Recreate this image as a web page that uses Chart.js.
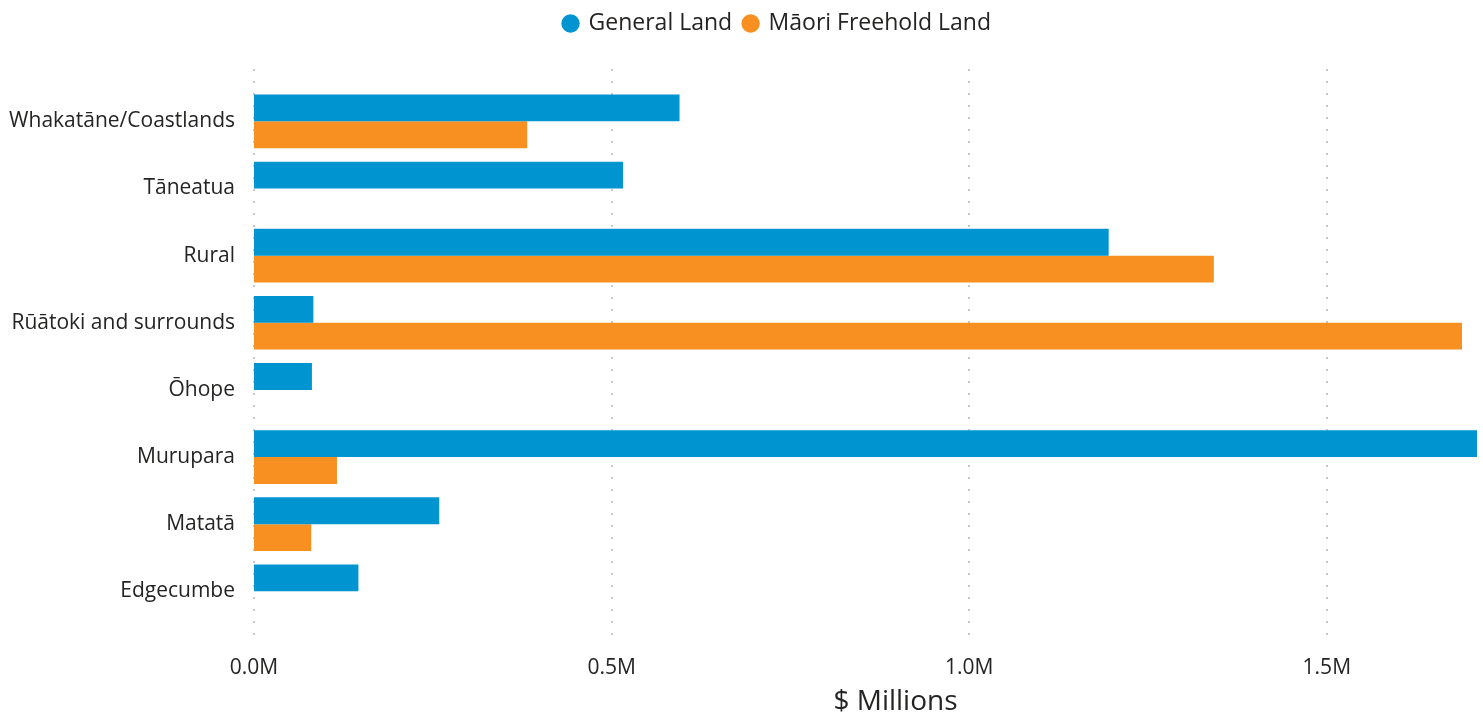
<!DOCTYPE html>
<html>
<head>
<meta charset="utf-8">
<script src="https://cdn.jsdelivr.net/npm/chart.js@4"></script>
<style>
  html, body { margin: 0; padding: 0; background: #fff; }
  #wrap { width: 1483px; height: 716px; position: relative; }
</style>
</head>
<body>
<div id="wrap"><canvas id="landChart"></canvas></div>
<script>
const regions = ['Whakatāne/Coastlands', 'Tāneatua', 'Rural', 'Rūātoki and surrounds', 'Ōhope', 'Murupara', 'Matatā', 'Edgecumbe'];
const generalLand = [0.595, 0.516, 1.195, 0.083, 0.081, 1.71, 0.259, 0.146];
const maoriLand = [0.382, 0, 1.342, 1.689, 0, 0.116, 0.080, 0];
const xTicks = [0, 0.5, 1.0, 1.5];

const FONT = '"Open Sans", "Noto Sans", sans-serif';
const TEXT = '#252423';

// bars sit on a numeric index axis so the grid can run past the first/last row
const toPoints = arr => arr.map((v, i) => ({ x: v, y: i }));

new Chart(document.getElementById('landChart'), {
  type: 'bar',
  data: {
    datasets: [
      { label: 'General Land', data: toPoints(generalLand), backgroundColor: '#0094D1' },
      { label: 'Māori Freehold Land', data: toPoints(maoriLand), backgroundColor: '#F79020' }
    ]
  },
  options: {
    indexAxis: 'y',
    responsive: true,
    maintainAspectRatio: false,
    animation: false,
    datasets: { bar: { categoryPercentage: 0.8, barPercentage: 1.0 } },
    layout: { padding: { left: 0, right: 6, top: 0, bottom: 0 } },
    plugins: {
      tooltip: { enabled: false },
      legend: {
        position: 'top',
        labels: {
          usePointStyle: true,
          pointStyle: 'circle',
          boxWidth: 13,
          boxHeight: 13,
          padding: 12,
          color: TEXT,
          font: { family: FONT, size: 23 }
        }
      }
    },
    scales: {
      x: {
        min: 0,
        max: 1.71,
        bounds: 'data',
        afterBuildTicks: s => { s.ticks = xTicks.map(v => ({ value: v })); },
        afterFit: s => { s.height = 71; },
        border: { display: false },
        grid: { display: false, drawTicks: false },
        ticks: {
          color: TEXT,
          padding: 10,
          font: { family: FONT, size: 21 },
          callback: v => v.toFixed(1) + 'M'
        },
        title: {
          display: true,
          text: '$ Millions',
          color: TEXT,
          padding: { top: 0, bottom: 0 },
          font: { family: FONT, size: 28, lineHeight: 1.0 }
        }
      },
      y: {
        type: 'linear',
        reverse: true,
        offset: false,
        min: -0.78,
        max: 7.8,
        bounds: 'data',
        afterBuildTicks: s => { s.ticks = regions.map((_, i) => ({ value: i })); },
        afterFit: s => { s.width = 254; },
        border: { display: false },
        grid: { display: false, drawTicks: false, offset: false },
        ticks: {
          color: TEXT,
          padding: 19,
          font: { family: FONT, size: 21 },
          callback: v => regions[v]
        }
      }
    }
  },
  plugins: [{
    id: 'tweaks',
    afterInit(chart) {
      // extra gap under the legend, as in the original
      const legend = chart.legend, fit = legend.fit;
      legend.fit = function () { fit.call(this); this.height += 24; };
    },
    afterLayout(chart) {
      // the original's legend and axis title sit a little right of centre
      chart.legend.left += 39;
      chart.legend.right += 39;
      chart.scales.x.right += 60;
    },
    beforeDatasetsDraw(chart) {
      // dotted gridlines like the original
      const x = chart.scales.x, area = chart.chartArea, ctx = chart.ctx;
      ctx.save();
      ctx.fillStyle = '#c8c8c8';
      x.ticks.forEach(t => {
        const px = Math.round(x.getPixelForValue(t.value));
        for (let y = area.top; y < area.bottom; y += 12) ctx.fillRect(px - 1, y, 2, 2);
      });
      ctx.restore();
    }
  }]
});
</script>
</body>
</html>
